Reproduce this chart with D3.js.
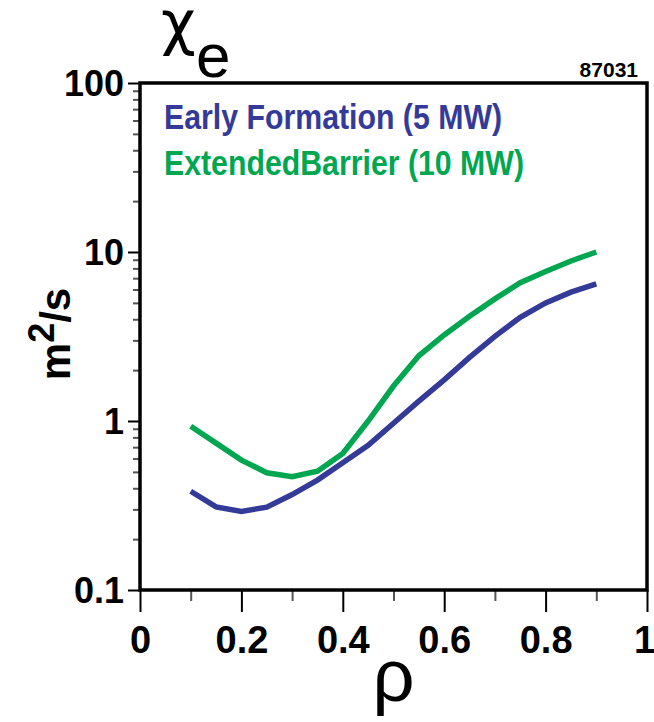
<!DOCTYPE html>
<html>
<head>
<meta charset="utf-8">
<script src="https://cdn.jsdelivr.net/npm/d3@7"></script>
<style>
  html, body { margin: 0; padding: 0; background: #fff; }
  svg { display: block; }
  .narrow { font-family: "Liberation Sans Narrow", "Arial Narrow", "Liberation Sans", Arial, sans-serif; font-weight: bold; }
  .plain { font-family: "Liberation Sans", Arial, sans-serif; }
  .greek { font-family: "DejaVu Sans", "Liberation Sans", sans-serif; }
</style>
</head>
<body>
<svg id="chart" width="654" height="722"></svg>
<script>
// Normalized radius and electron thermal diffusivity profiles
const rho = [0.1, 0.15, 0.2, 0.25, 0.3, 0.35, 0.4, 0.45, 0.5, 0.55, 0.6, 0.65, 0.7, 0.75, 0.8, 0.85, 0.9];
const chiEarly = [0.384, 0.310, 0.292, 0.309, 0.367, 0.447, 0.566, 0.718, 0.97, 1.31, 1.75, 2.38, 3.17, 4.11, 5.0, 5.79, 6.48];
const chiExtended = [0.93, 0.74, 0.587, 0.494, 0.468, 0.505, 0.643, 1.0, 1.61, 2.43, 3.23, 4.17, 5.28, 6.58, 7.67, 8.85, 10.0];

const seriesNames = ["Early Formation (5 MW)", "ExtendedBarrier (10 MW)"];
const seriesColors = ["#343a98", "#00a650"];

const xTicks = [0, 0.2, 0.4, 0.6, 0.8, 1];
const xTickLabels = ["0", "0.2", "0.4", "0.6", "0.8", "1"];
const yTicks = [0.1, 1, 10, 100];
const yTickLabels = ["0.1", "1", "10", "100"];
const shotNumber = "87031";

const svg = d3.select("#chart");
const plotLeft = 140, plotRight = 647, plotTop = 83, plotBottom = 590;

const x = d3.scaleLinear().domain([0, 1]).range([plotLeft, plotRight]);
const y = d3.scaleLog().domain([0.1, 100]).range([plotBottom, plotTop]);

// Minor ticks: tenths on x, 2..9 per decade on y
const xMinor = d3.range(0, 11).map(i => i / 10).filter(v => !xTicks.some(t => Math.abs(t - v) < 1e-9));
const yMinor = [];
[0.1, 1, 10].forEach(d => { for (let k = 2; k <= 9; k++) yMinor.push(d * k); });

// x axis (bottom)
const xAxis = d3.axisBottom(x).tickValues(xTicks).tickFormat((d, i) => xTickLabels[i]).tickSize(22).tickPadding(14);
const gx = svg.append("g").attr("transform", `translate(0,${plotBottom})`).call(xAxis);
gx.select(".domain").remove();
gx.selectAll(".tick line").attr("stroke", "#000").attr("stroke-width", 2);
gx.selectAll(".tick text").attr("class", "narrow").attr("font-size", 38).attr("fill", "#000");
// keep the last label inside the page
gx.selectAll(".tick text").filter((d, i) => i === xTicks.length - 1).attr("dx", -3);
const gxm = svg.append("g").attr("transform", `translate(0,${plotBottom})`)
  .call(d3.axisBottom(x).tickValues(xMinor).tickSize(11).tickFormat(""));
gxm.select(".domain").remove();
gxm.selectAll(".tick line").attr("stroke", "#555").attr("stroke-width", 2);

// y axis (left, log)
const yAxis = d3.axisLeft(y).tickValues(yTicks).tickFormat((d, i) => yTickLabels[i]).tickSize(12).tickPadding(4);
const gy = svg.append("g").attr("transform", `translate(${plotLeft},0)`).call(yAxis);
gy.select(".domain").remove();
gy.selectAll(".tick line").attr("stroke", "#000").attr("stroke-width", 2);
gy.selectAll(".tick text").attr("class", "narrow").attr("font-size", 36).attr("fill", "#000").attr("dy", "0.36em");
const gym = svg.append("g").attr("transform", `translate(${plotLeft},0)`)
  .call(d3.axisLeft(y).tickValues(yMinor).tickSize(7).tickFormat(""));
gym.select(".domain").remove();
gym.selectAll(".tick line").attr("stroke", "#555").attr("stroke-width", 2);

// Frame
svg.append("rect")
  .attr("x", plotLeft).attr("y", plotTop)
  .attr("width", plotRight - plotLeft).attr("height", plotBottom - plotTop)
  .attr("fill", "none").attr("stroke", "#000").attr("stroke-width", 3.5);

// Profiles
const line = d3.line().x(d => x(d[0])).y(d => y(d[1]));
[chiEarly, chiExtended].forEach((vals, i) => {
  svg.append("path")
    .datum(rho.map((r, j) => [r, vals[j]]))
    .attr("d", line)
    .attr("fill", "none")
    .attr("stroke", seriesColors[i])
    .attr("stroke-width", 5.5)
    .attr("stroke-linejoin", "miter");
});

// Legend (condensed bold lettering)
const legendY = [129, 175];
seriesNames.forEach((name, i) => {
  svg.append("text").attr("class", "narrow")
    .attr("transform", `translate(164,${legendY[i]}) scale(0.865,1)`)
    .attr("font-size", 35).attr("fill", seriesColors[i])
    .text(name);
});

// Shot number
svg.append("text").attr("class", "narrow")
  .attr("x", 638).attr("y", 77).attr("text-anchor", "end")
  .attr("font-size", 21).attr("fill", "#000").text(shotNumber);

// Title: chi_e
svg.append("text").attr("class", "greek").attr("font-size", 60).attr("fill", "#000")
  .attr("x", 161).attr("y", 43).text("χ");
svg.append("text").attr("class", "plain").attr("font-size", 62).attr("fill", "#000")
  .attr("x", 196).attr("y", 77).text("e");

// x label: rho
svg.append("text").attr("class", "plain")
  .attr("x", x(0.5)).attr("y", 701).attr("text-anchor", "middle")
  .attr("font-size", 74).attr("fill", "#000").text("ρ");

// y label: m^2/s
const yl = svg.append("text").attr("class", "narrow")
  .attr("transform", "translate(70,334) rotate(-90)")
  .attr("text-anchor", "middle").attr("font-size", 42).attr("fill", "#000");
yl.append("tspan").text("m");
yl.append("tspan").attr("font-size", 36).attr("dy", -16).text("2");
yl.append("tspan").attr("dy", 16).text("/s");
</script>
</body>
</html>
